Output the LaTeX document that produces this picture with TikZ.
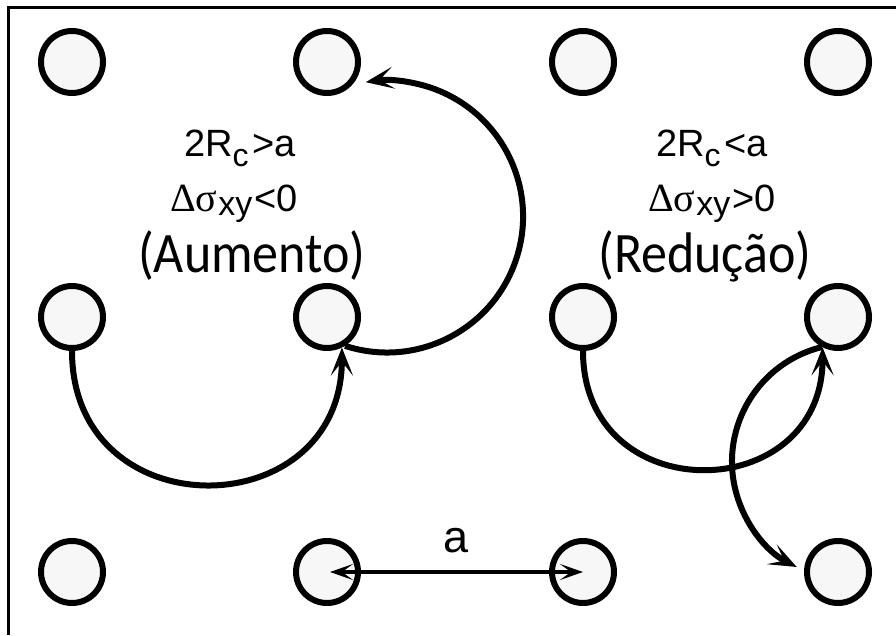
\documentclass[tikz,border=0pt]{standalone}
\usepackage{fontspec}
\setmainfont{Liberation Sans}
\newfontfamily\calfont{Carlito}
\newfontfamily\serfont{Liberation Serif}
\usetikzlibrary{arrows.meta}
\tikzset{
  site/.style={circle, draw=black, line width=6pt, fill=black!3, minimum size=62pt, inner sep=0pt},
  conn/.style={line width=6pt, -{Stealth[length=28pt,width=22pt,inset=14pt]}},
  dbl/.style={line width=4.5pt, {Stealth[length=23pt,width=16pt,inset=11pt]}-{Stealth[length=23pt,width=16pt,inset=11pt]}},
  frame/.style={line width=3pt},
  formula/.style={anchor=base, inner sep=0pt, font=\fontsize{38}{38}\selectfont},
  word/.style={anchor=base, inner sep=0pt, font=\fontsize{52}{52}\selectfont\calfont},
  dist/.style={anchor=base, inner sep=0pt, font=\fontsize{45}{45}\selectfont}
}
\begin{document}
\begin{tikzpicture}[x=1pt,y=1pt]
\useasboundingbox (0,0) rectangle (896,635);
\draw[frame] (8.5,0) -- (8.5,627.5) -- (896,627.5);
% lattice sites
\node[site] (c11) at (72,573) {};
\node[site] (c21) at (327,573) {};
\node[site] (c31) at (583,573) {};
\node[site] (c41) at (838,573) {};
\node[site] (c12) at (72,318) {};
\node[site] (c22) at (327,318) {};
\node[site] (c32) at (583,318) {};
\node[site] (c42) at (838,318) {};
\node[site] (c13) at (72,63) {};
\node[site] (c23) at (327,63) {};
\node[site] (c33) at (583,63) {};
\node[site] (c43) at (838,63) {};
% texts
\node[formula] (t1) at (240,478) {2R\raisebox{-10pt}{\fontsize{32}{32}\selectfont c}\hspace{4pt}>a};
\node[formula] (t2) at (234,423) {{\serfont\fontsize{40}{40}\selectfont Δσ}\hspace{1pt}\raisebox{-4pt}{\fontsize{34}{34}\selectfont xy}\hspace{2pt}<0};
\node[word] (t3) at (252,362) {\scalebox{1}[1.1]{(Aumento)}};
\node[formula] (t4) at (712,478) {2R\raisebox{-10pt}{\fontsize{32}{32}\selectfont c}\hspace{4pt}<a};
\node[formula] (t5) at (712,423) {{\serfont\fontsize{40}{40}\selectfont Δσ}\hspace{1pt}\raisebox{-4pt}{\fontsize{34}{34}\selectfont xy}\hspace{2pt}>0};
\node[word] (t6) at (705,362) {\scalebox{1}[1.1]{(Redução)}};
\node[dist] (la) at (456,83) {a};
% connectors
\draw[conn] (c12.south) to[out=-90,in=-90,looseness=1.7] (c22.-64);
\draw[conn] (c22.-58) arc[start angle=-108, end angle=99, radius=136];
\draw[conn] (c32.south) to[out=-90,in=-90,looseness=1.7] (c42.-117);
\draw[conn] (c42.-118) arc[start angle=103.7, end angle=243.2, radius=118];
\draw[dbl, shorten <=3pt] (c23.center) -- (c33.center);
\end{tikzpicture}
\end{document}
